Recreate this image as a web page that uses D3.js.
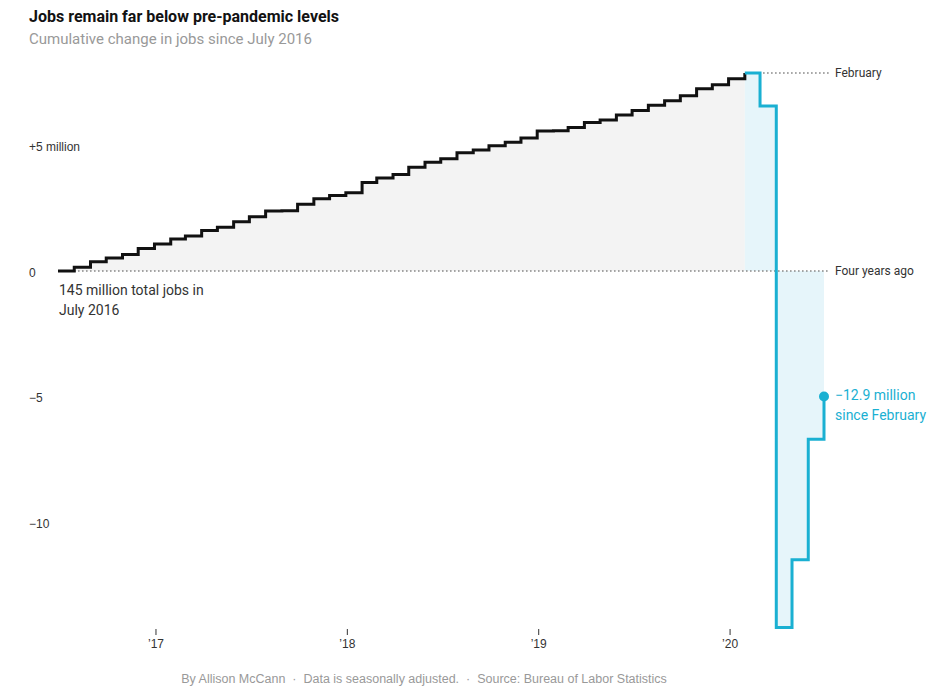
<!DOCTYPE html>
<html>
<head>
<meta charset="utf-8">
<script src="https://cdn.jsdelivr.net/npm/d3@7"></script>
<style>
  body { margin: 0; background: #fff; }
  svg { display: block; }
</style>
</head>
<body>
<svg id="chart" width="949" height="692"></svg>
<script>
// ---- Data (cumulative change in jobs since July 2016, millions) ----
const months = [
  "2016-07","2016-08","2016-09","2016-10","2016-11","2016-12",
  "2017-01","2017-02","2017-03","2017-04","2017-05","2017-06",
  "2017-07","2017-08","2017-09","2017-10","2017-11","2017-12",
  "2018-01","2018-02","2018-03","2018-04","2018-05","2018-06",
  "2018-07","2018-08","2018-09","2018-10","2018-11","2018-12",
  "2019-01","2019-02","2019-03","2019-04","2019-05","2019-06",
  "2019-07","2019-08","2019-09","2019-10","2019-11","2019-12",
  "2020-01","2020-02","2020-03","2020-04","2020-05","2020-06","2020-07"
];
const values = [
  0, 0.15, 0.37, 0.52, 0.66, 0.90,
  1.08, 1.27, 1.39, 1.61, 1.74, 1.96,
  2.16, 2.39, 2.40, 2.66, 2.88, 3.01,
  3.12, 3.53, 3.71, 3.84, 4.13, 4.33,
  4.47, 4.71, 4.82, 4.99, 5.13, 5.30,
  5.58, 5.59, 5.72, 5.92, 6.02, 6.22,
  6.39, 6.60, 6.78, 6.98, 7.26, 7.42,
  7.66, 7.89, 6.57, -14.2, -11.5, -6.7, -5.0
];
const febIndex = 43; // February 2020
const yTickValues = [5, 0, -5, -10];
const yTickLabels = ["+5 million", "0", "\u22125", "\u221210"];
const xTickDates = ["2017-01","2018-01","2019-01","2020-01"];
const xTickLabels = ["\u201917","\u201918","\u201919","\u201920"];

// ---- Setup ----
const parse = d3.timeParse("%Y-%m");
const data = months.map((m, i) => ({ date: parse(m), value: values[i] }));
const svg = d3.select("#chart");
const font = "'Liberation Sans', Arial, sans-serif";
const font2 = "'Roboto', 'Liberation Sans', sans-serif";

const x = d3.scaleTime()
  .domain([parse("2016-07"), parse("2020-07")])
  .range([58, 824]);
const y = d3.scaleLinear()
  .domain([0, -10])
  .range([271, 522]);

const black = data.slice(0, febIndex + 1);
const blue = data.slice(febIndex);

const area = d3.area()
  .curve(d3.curveStepAfter)
  .x(d => x(d.date))
  .y0(y(0))
  .y1(d => y(d.value));
const line = d3.line()
  .curve(d3.curveStepAfter)
  .x(d => x(d.date))
  .y(d => y(d.value));

// areas
svg.append("path").datum(black).attr("d", area).attr("fill", "#f3f3f3");
svg.append("path").datum(blue).attr("d", area).attr("fill", "#e6f5fa");

// zero reference line
svg.append("line")
  .attr("x1", x(parse("2016-07"))).attr("x2", 830)
  .attr("y1", y(0)).attr("y2", y(0))
  .attr("stroke", "#888").attr("stroke-width", 1.6)
  .attr("stroke-dasharray", "1.6,2.4");
// February reference line
svg.append("line")
  .attr("x1", x(data[febIndex + 1].date) + 3).attr("x2", 830)
  .attr("y1", y(values[febIndex])).attr("y2", y(values[febIndex]))
  .attr("stroke", "#888").attr("stroke-width", 1.6)
  .attr("stroke-dasharray", "1.6,2.4");

// lines
svg.append("path").datum(black).attr("d", line)
  .attr("fill", "none").attr("stroke", "#111").attr("stroke-width", 3)
  .attr("stroke-linejoin", "miter");
svg.append("path").datum(blue).attr("d", line)
  .attr("fill", "none").attr("stroke", "#1ab0d2").attr("stroke-width", 3)
  .attr("stroke-linejoin", "miter");

// end dot
const last = data[data.length - 1];
svg.append("circle")
  .attr("cx", x(last.date)).attr("cy", y(last.value)).attr("r", 5)
  .attr("fill", "#1ab0d2");

// y axis labels
const yAxis = d3.axisLeft(y).tickValues(yTickValues)
  .tickFormat((d, i) => yTickLabels[i]).tickSize(0);
const yg = svg.append("g").attr("transform", "translate(29,1)").call(yAxis);
yg.select(".domain").remove();
yg.selectAll("text")
  .attr("text-anchor", "start").attr("x", 0).attr("dy", "0.35em")
  .attr("fill", "#333").style("font-family", font).style("font-size", "12px");

// x axis
const xAxis = d3.axisBottom(x)
  .tickValues(xTickDates.map(parse))
  .tickFormat((d, i) => xTickLabels[i])
  .tickSize(6).tickPadding(4);
const xg = svg.append("g").attr("transform", "translate(1,629)").call(xAxis);
xg.select(".domain").remove();
xg.selectAll("line").attr("stroke", "#333");
xg.selectAll("text").attr("fill", "#333")
  .style("font-family", font).style("font-size", "12px");

// title & subtitle
svg.append("text").attr("x", 29).attr("y", 22)
  .text("Jobs remain far below pre-pandemic levels")
  .attr("fill", "#121212").style("font-family", font2)
  .style("font-weight", "700").style("font-size", "16px");
svg.append("text").attr("x", 29).attr("y", 44)
  .text("Cumulative change in jobs since July 2016")
  .attr("fill", "#999").style("font-family", font2)
  .style("font-size", "15px");

// annotations
const ann = svg.append("text").attr("fill", "#333")
  .style("font-family", font2).style("font-size", "14px");
ann.append("tspan").attr("x", 59).attr("y", 295).text("145 million total jobs in");
ann.append("tspan").attr("x", 59).attr("y", 315).text("July 2016");

svg.append("text").attr("x", 835).attr("y", y(values[febIndex])).attr("dy", "0.35em")
  .text("February").attr("fill", "#333")
  .style("font-family", font2).style("font-size", "12px");
svg.append("text").attr("x", 835).attr("y", y(0)).attr("dy", "0.35em")
  .text("Four years ago").attr("fill", "#333")
  .style("font-family", font2).style("font-size", "12px");

const ann2 = svg.append("text").attr("fill", "#1ab0d2")
  .style("font-family", font2).style("font-size", "14px");
ann2.append("tspan").attr("x", 835).attr("y", y(last.value) + 3).text("\u221212.9 million");
ann2.append("tspan").attr("x", 835).attr("y", y(last.value) + 23).text("since February");

// footer
svg.append("text").attr("x", 424).attr("y", 683).attr("text-anchor", "middle")
  .attr("fill", "#999").style("font-family", "'Liberation Sans Narrow', 'Liberation Sans', sans-serif")
  .style("font-size", "12.5px")
  .text("By Allison McCann  \u00b7  Data is seasonally adjusted.  \u00b7  Source: Bureau of Labor Statistics")
  .attr("xml:space", "preserve").style("white-space", "pre");
</script>
</body>
</html>
